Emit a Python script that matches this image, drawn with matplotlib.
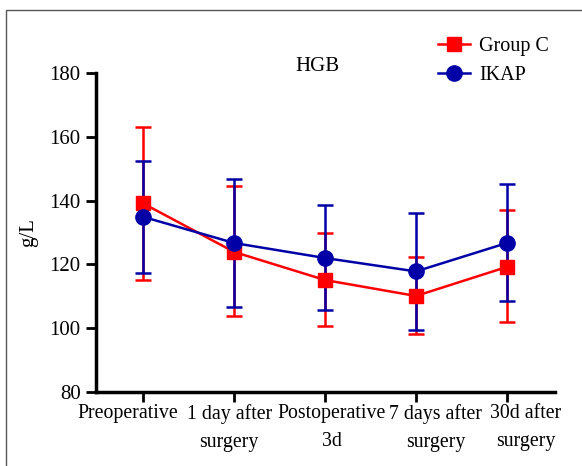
import matplotlib
matplotlib.use('Agg')
import matplotlib.pyplot as plt
import matplotlib.transforms as mtrans
from matplotlib.patches import Rectangle
from matplotlib.lines import Line2D

plt.rcParams['font.family'] = ['Liberation Serif', 'DejaVu Serif']

# datos
categorias = ['Preoperative', '1 day after\nsurgery', 'Postoperative\n3d',
              '7 days after\nsurgery', '30d after\nsurgery']
grupo_c = [139.1, 123.9, 115.1, 110.1, 119.2]
grupo_c_sup = [163.1, 144.5, 130.0, 122.2, 136.9]
grupo_c_inf = [115.1, 103.7, 100.6, 98.2, 101.9]
ikap = [134.9, 126.7, 122.0, 117.8, 126.7]
ikap_sup = [152.5, 146.8, 138.5, 136.0, 145.2]
ikap_inf = [117.4, 106.8, 105.6, 99.3, 108.4]
y_ticks = [80, 100, 120, 140, 160, 180]

ROJO = '#ff0000'
AZUL = '#0000a6'
FS = 15
# desplazamiento horizontal de las etiquetas (pixeles)
_DESPLAZAMIENTO = [-15, -5, 7, 20, 19]

fig = plt.figure(figsize=(5.82, 4.66), dpi=100)
fig.patches.append(Rectangle((6 / 582, -0.01), 1.0, 1 - 10 / 466 + 0.01,
                             transform=fig.transFigure, fill=False,
                             edgecolor='#555555', linewidth=1.0))
ax = fig.add_axes([96 / 582, 1 - 392 / 466, (555 - 96) / 582, (392 - 73) / 466])

x = list(range(len(categorias)))


def serie(valores, sup, inf, color, marker, size):
    err = [[v - i for v, i in zip(valores, inf)], [s - v for v, s in zip(valores, sup)]]
    ax.errorbar(x, valores, yerr=err, color=color, marker=marker, markersize=size,
                linewidth=1.8, elinewidth=1.8, capsize=5.5, capthick=1.8)


serie(grupo_c, grupo_c_sup, grupo_c_inf, ROJO, 's', 10.5)
serie(ikap, ikap_sup, ikap_inf, AZUL, 'o', 11)

ax.set_xlim(-0.52, 4.53)
ax.set_ylim(80, 180)
ax.set_yticks(y_ticks)
ax.set_xticks(x)
ax.set_xticklabels([])
base = mtrans.blended_transform_factory(ax.transData, ax.transAxes)
for xi, texto, dx in zip(x, categorias, _DESPLAZAMIENTO):
    tr = base + mtrans.ScaledTranslation(dx / 100, -12 / 100, fig.dpi_scale_trans)
    ax.text(xi, 0, texto, transform=tr, ha='center', va='top', fontsize=14.3,
            linespacing=1.62, multialignment='center')
ax.tick_params(axis='y', labelsize=FS, width=2, length=7, pad=4)
ax.tick_params(axis='x', width=2, length=7, pad=4)
for lado in ['top', 'right']:
    ax.spines[lado].set_visible(False)
for lado in ['left', 'bottom']:
    ax.spines[lado].set_linewidth(2.5)
ax.set_ylabel('g/L', fontsize=FS, labelpad=8)
ax.text(0.483, 1.005, 'HGB', transform=ax.transAxes, ha='center', va='baseline', fontsize=FS)

handles = [Line2D([], [], color=ROJO, marker='s', markersize=10.5, linewidth=1.8),
           Line2D([], [], color=AZUL, marker='o', markersize=11, linewidth=1.8)]
ax.legend(handles, ['Group C', 'IKAP'], loc='upper left', bbox_to_anchor=(0.705, 1.17),
          frameon=False, fontsize=FS - 0.5, handlelength=1.6, handletextpad=0.45,
          labelspacing=0.5)

fig.savefig('out.png', dpi=100)
